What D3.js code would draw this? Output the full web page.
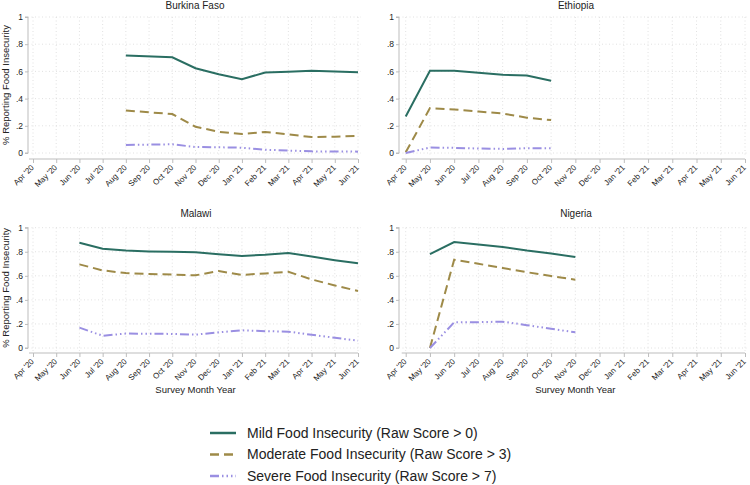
<!DOCTYPE html>
<html><head><meta charset="utf-8">
<script src="https://cdn.jsdelivr.net/npm/d3@7"></script>
<style>body{margin:0;background:#fff;} svg{display:block;font-family:"Liberation Sans",Arial,Helvetica,sans-serif;}</style>
</head><body>
<svg id="c" width="750" height="485"></svg>
<script>
const months = ["Apr '20","May '20","Jun '20","Jul '20","Aug '20","Sep '20","Oct '20","Nov '20","Dec '20","Jan '21","Feb '21","Mar '21","Apr '21","May '21","Jun '21"];
const yTicks = [0, 0.2, 0.4, 0.6, 0.8, 1];
const yTickLabels = ["0", ".2", ".4", ".6", ".8", "1"];
const seriesNames = ["Mild Food Insecurity (Raw Score > 0)","Moderate Food Insecurity (Raw Score > 3)","Severe Food Insecurity (Raw Score > 7)"];

// Burkina Faso
const bfMonths = ["Aug '20","Oct '20","Nov '20","Dec '20","Jan '21","Feb '21","Mar '21","Apr '21","May '21","Jun '21"];
const bfMild = [0.716,0.704,0.623,0.579,0.543,0.592,0.597,0.604,0.600,0.594];
const bfModerate = [0.313,0.286,0.193,0.156,0.139,0.154,0.137,0.117,0.120,0.125];
const bfSevere = [0.059,0.064,0.044,0.042,0.039,0.024,0.018,0.012,0.011,0.010];
// Ethiopia
const etMonths = ["Apr '20","May '20","Jun '20","Jul '20","Aug '20","Sep '20","Oct '20"];
const etMild = [0.269,0.604,0.605,0.590,0.575,0.570,0.531];
const etModerate = [0.005,0.330,0.320,0.305,0.290,0.260,0.242];
const etSevere = [0.000,0.040,0.038,0.033,0.030,0.035,0.035];
// Malawi
const mwMonths = ["Jun '20","Jul '20","Aug '20","Sep '20","Oct '20","Nov '20","Dec '20","Jan '21","Feb '21","Mar '21","Apr '21","May '21","Jun '21"];
const mwMild = [0.875,0.825,0.810,0.803,0.800,0.796,0.780,0.765,0.775,0.790,0.760,0.730,0.704];
const mwModerate = [0.695,0.645,0.623,0.615,0.610,0.604,0.640,0.607,0.620,0.634,0.570,0.520,0.474];
const mwSevere = [0.169,0.102,0.120,0.119,0.117,0.111,0.130,0.147,0.140,0.136,0.110,0.085,0.061];
// Nigeria
const ngMonths = ["May '20","Jun '20","Jul '20","Aug '20","Sep '20","Oct '20","Nov '20"];
const ngMild = [0.781,0.881,0.860,0.840,0.810,0.785,0.756];
const ngModerate = [0.000,0.734,0.700,0.665,0.630,0.598,0.568];
const ngSevere = [0.000,0.213,0.215,0.219,0.190,0.160,0.130];

const countries = [
  {name:"Burkina Faso", m:bfMonths, s:[bfMild,bfModerate,bfSevere]},
  {name:"Ethiopia", m:etMonths, s:[etMild,etModerate,etSevere]},
  {name:"Malawi", m:mwMonths, s:[mwMild,mwModerate,mwSevere]},
  {name:"Nigeria", m:ngMonths, s:[ngMild,ngModerate,ngSevere]}
];

const colors = ["#2a6e62","#9e8a48","#9a8fe2"];
const dashes = [null, "9,5", "9,3,1.5,3,1.5,3,1.5,3"];

const layout = [
  {x0:33, x1:358, yTop:17, yBot:153, yAxisX:28, xAxisY:159, titleX:195, titleY:9, ylab:true, xlab:false},
  {x0:405.7, x1:745, yTop:17, yBot:153, yAxisX:399, xAxisY:159, titleX:576, titleY:9, ylab:false, xlab:false},
  {x0:33, x1:358, yTop:227.7, yBot:348, yAxisX:28, xAxisY:353, titleX:196, titleY:217, ylab:true, xlab:true},
  {x0:405.7, x1:745, yTop:227.7, yBot:348, yAxisX:399, xAxisY:353, titleX:576, titleY:217, ylab:false, xlab:true}
];

const svg = d3.select("#c");
const gridCol = "#d9d9d9";
const axisCol = "#bdbdbd";
const textCol = "#222";

countries.forEach((c, i) => {
  const L = layout[i];
  const x = d3.scalePoint().domain(months).range([L.x0, L.x1]);
  const y = d3.scaleLinear().domain([0,1]).range([L.yBot, L.yTop]);
  const g = svg.append("g");

  // gridlines
  g.selectAll(".hg").data(yTicks).enter().append("line")
    .attr("x1", L.yAxisX).attr("x2", L.x1 + 3)
    .attr("y1", d => y(d)).attr("y2", d => y(d))
    .attr("stroke", gridCol).attr("stroke-width", 0.8).attr("stroke-dasharray", "1,2.5");
  g.selectAll(".vg").data(months).enter().append("line")
    .attr("x1", d => x(d)).attr("x2", d => x(d))
    .attr("y1", L.yTop).attr("y2", L.yBot + 3)
    .attr("stroke", gridCol).attr("stroke-width", 0.8).attr("stroke-dasharray", "1,2.5");

  // y axis
  const ya = d3.axisLeft(y).tickValues(yTicks).tickFormat((d,k) => yTickLabels[k]).tickSize(3).tickPadding(2);
  const yg = g.append("g").attr("transform", `translate(${L.yAxisX},0)`).call(ya);
  yg.select(".domain").attr("stroke", axisCol).attr("d", `M-3,${L.yTop}H0V${L.yBot}H-3`);
  yg.selectAll(".tick line").attr("stroke", axisCol);
  yg.selectAll("text").attr("fill", textCol).style("font-size", "8.5px").style("font-family", "'Liberation Sans',Arial,sans-serif");

  // x axis
  const xa = d3.axisBottom(x).tickSize(4).tickPadding(2);
  const xg = g.append("g").attr("transform", `translate(0,${L.xAxisY})`).call(xa);
  xg.select(".domain").attr("stroke", axisCol).attr("d", `M${L.x0 - 4},0H${L.x1}`);
  xg.selectAll(".tick line").attr("stroke", axisCol);
  xg.selectAll("text").attr("fill", textCol).style("font-size", "8px").style("font-family", "'Liberation Sans',Arial,sans-serif")
    .attr("text-anchor", "end").attr("x", 0).attr("y", 0).attr("dy", "0.35em")
    .attr("transform", "translate(-1,7) rotate(-45)");

  // title
  g.append("text").attr("x", L.titleX).attr("y", L.titleY).attr("text-anchor", "middle")
    .style("font-size", "10px").attr("fill", textCol).text(c.name);

  if (L.ylab) {
    const cy = (L.yTop + L.yBot) / 2;
    g.append("text").attr("transform", `translate(9,${cy}) rotate(-90)`).attr("text-anchor", "middle")
      .style("font-size", "9.5px").attr("fill", textCol).text("% Reporting Food Insecurity");
  }
  if (L.xlab) {
    g.append("text").attr("x", (L.x0 + L.x1) / 2).attr("y", 393).attr("text-anchor", "middle")
      .style("font-size", "9.5px").attr("fill", textCol).text("Survey Month Year");
  }

  // lines
  c.s.forEach((vals, k) => {
    const line = d3.line().x((d, j) => x(c.m[j])).y(d => y(d));
    g.append("path").datum(vals).attr("d", line).attr("fill", "none")
      .attr("stroke", colors[k]).attr("stroke-width", 2)
      .attr("stroke-dasharray", dashes[k]);
  });
});

// legend
const leg = svg.append("g");
seriesNames.forEach((n, k) => {
  const yy = 433 + k * 21.5;
  leg.append("line").attr("x1", 210).attr("x2", 236).attr("y1", yy).attr("y2", yy)
    .attr("stroke", colors[k]).attr("stroke-width", 2.5).attr("stroke-dasharray", dashes[k]);
  leg.append("text").attr("x", 247).attr("y", yy).attr("dy", "0.35em")
    .style("font-size", "14px").attr("fill", textCol).text(n);
});
</script>
</body></html>
